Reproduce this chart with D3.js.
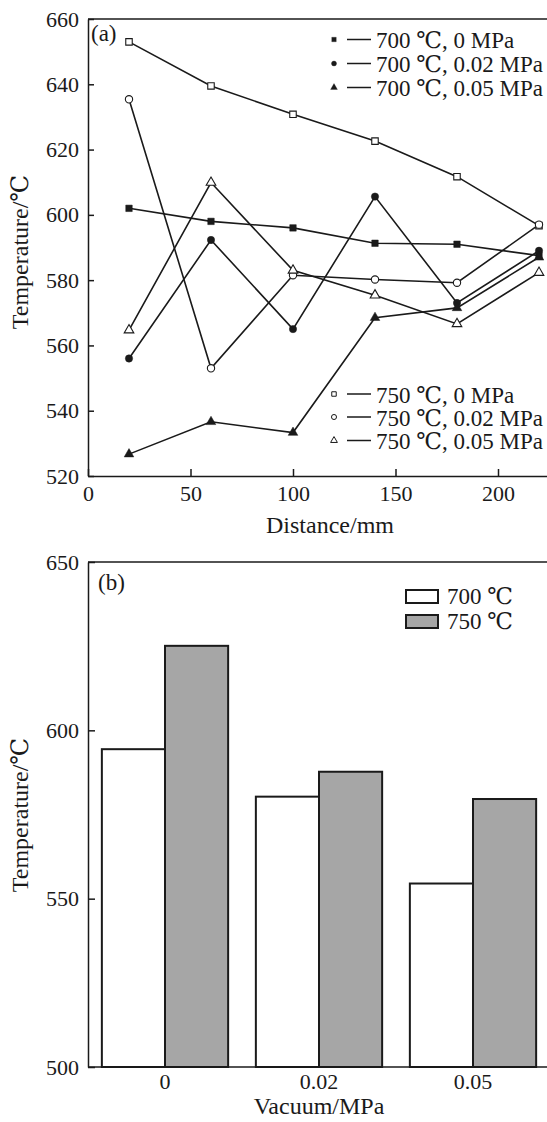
<!DOCTYPE html>
<html><head><meta charset="utf-8">
<script src="https://cdn.jsdelivr.net/npm/d3@7"></script>
<style>
body{margin:0;background:#fff;}
svg text{font-family:"Liberation Serif","DejaVu Serif",serif;fill:#1a1a1a;}
</style></head>
<body>
<svg id="chart" width="547" height="1122"></svg>
<script>
// ---------- Data: panel (a) ----------
const distances = [20, 60, 100, 140, 180, 220];
const seriesNames = ["700 ℃, 0 MPa","700 ℃, 0.02 MPa","700 ℃, 0.05 MPa","750 ℃, 0 MPa","750 ℃, 0.02 MPa","750 ℃, 0.05 MPa"];
const seriesSymbols = ["square","circle","triangle","square","circle","triangle"];
const seriesFilled = [true,true,true,false,false,false];
const t700_0    = [602, 598, 596, 591.3, 591, 587.5];
const t700_002  = [556, 592.3, 565, 605.6, 573, 589];
const t700_005  = [526.7, 536.6, 533.3, 568.5, 571.5, 587];
const t750_0    = [653, 639.5, 630.8, 622.6, 611.7, 596.7];
const t750_002  = [635.4, 553, 581.5, 580.2, 579.2, 597];
const t750_005  = [564.7, 609.9, 583, 575.4, 566.6, 582.3];
const seriesValues = [t700_0, t700_002, t700_005, t750_0, t750_002, t750_005];
const xTicksA = [0, 50, 100, 150, 200];
const yTicksA = [520, 540, 560, 580, 600, 620, 640, 660];

// ---------- Data: panel (b) ----------
const vacuumCats = ["0", "0.02", "0.05"];
const barGroups = ["700 ℃", "750 ℃"];
const bar700 = [594.4, 580.3, 554.5];
const bar750 = [625.1, 587.7, 579.6];
const yTicksB = [500, 550, 600, 650];

const svg = d3.select("#chart");
const ink = "#1a1a1a";
const tickFont = 22, titleFont = 24, legendFont = 23;

// ================= Panel (a) =================
const xA = d3.scaleLinear().domain([0, 225]).range([88, 549.25]);
const yA = d3.scaleLinear().domain([520, 660]).range([476, 19]);
const gA = svg.append("g");

gA.append("line").attr("x1", 88).attr("x2", 547).attr("y1", yA(660)).attr("y2", yA(660))
  .attr("stroke", ink).attr("stroke-width", 1.5);

const axA_x = gA.append("g").attr("transform", `translate(0,${yA(520)})`)
  .call(d3.axisBottom(xA).tickValues(xTicksA).tickSizeInner(-7).tickSizeOuter(0).tickPadding(9));
const axA_y = gA.append("g").attr("transform", `translate(${xA(0)},0)`)
  .call(d3.axisLeft(yA).tickValues(yTicksA).tickSizeInner(-6).tickSizeOuter(0).tickPadding(9));
[axA_x, axA_y].forEach(a => {
  a.selectAll("path,line").attr("stroke", ink).attr("stroke-width", 1.5);
  a.selectAll("text").attr("font-size", tickFont).attr("fill", ink);
});

gA.append("text").attr("x", 330).attr("y", 533).attr("text-anchor", "middle")
  .attr("font-size", titleFont).text("Distance/mm");
gA.append("text").attr("transform", "translate(28,252) rotate(-90)").attr("text-anchor", "middle")
  .attr("font-size", titleFont).text("Temperature/℃");
gA.append("text").attr("x", 91).attr("y", 41).attr("font-size", legendFont).text("(a)");

function symbolPath(type, size) {
  const t = type === "square" ? d3.symbolSquare : type === "circle" ? d3.symbolCircle : d3.symbolTriangle;
  return d3.symbol().type(t).size(size)();
}

const line = d3.line().x((d, i) => xA(distances[i])).y(d => yA(d));
seriesValues.forEach((vals, s) => {
  gA.append("path").attr("d", line(vals)).attr("fill", "none").attr("stroke", ink).attr("stroke-width", 1.6);
});
seriesValues.forEach((vals, s) => {
  gA.selectAll(null).data(vals).enter().append("path")
    .attr("d", symbolPath(seriesSymbols[s], seriesSymbols[s] === "triangle" ? 40 : 42))
    .attr("transform", (d, i) => `translate(${xA(distances[i])},${yA(d)})`)
    .attr("fill", seriesFilled[s] ? ink : "#fff")
    .attr("stroke", ink).attr("stroke-width", seriesFilled[s] ? 0.5 : 1.1);
});

function legendA(items, yCenters) {
  items.forEach((s, k) => {
    const cy = yCenters[k];
    gA.append("path").attr("d", symbolPath(seriesSymbols[s], 20))
      .attr("transform", `translate(334,${cy})`)
      .attr("fill", seriesFilled[s] ? ink : "#fff").attr("stroke", ink).attr("stroke-width", seriesFilled[s] ? 0.3 : 1);
    gA.append("line").attr("x1", 347).attr("x2", 371).attr("y1", cy).attr("y2", cy)
      .attr("stroke", ink).attr("stroke-width", 1.5);
    gA.append("text").attr("x", 376).attr("y", cy + 8.5).attr("font-size", legendFont).text(seriesNames[s]);
  });
}
legendA([0, 1, 2], [39.5, 63.5, 87.5]);
legendA([3, 4, 5], [394, 417, 440.5]);

// ================= Panel (b) =================
const xB = d3.scaleBand().domain(vacuumCats).range([88, 550]).paddingInner(0.18).paddingOuter(0.09);
const xSub = d3.scaleBand().domain(barGroups).range([0, xB.bandwidth()]);
const yB = d3.scaleLinear().domain([500, 650]).range([1067, 562]);
const gB = svg.append("g");

gB.append("line").attr("x1", 88).attr("x2", 547).attr("y1", yB(650)).attr("y2", yB(650))
  .attr("stroke", ink).attr("stroke-width", 1.5);

const fills = ["#ffffff", "#a6a6a6"];
const barData = [bar700, bar750];
barGroups.forEach((g, gi) => {
  gB.selectAll(null).data(barData[gi]).enter().append("rect")
    .attr("x", (d, i) => xB(vacuumCats[i]) + xSub(g))
    .attr("width", xSub.bandwidth())
    .attr("y", d => yB(d))
    .attr("height", d => yB(500) - yB(d))
    .attr("fill", fills[gi]).attr("stroke", ink).attr("stroke-width", 2);
});

const axB_x = gB.append("g").attr("transform", `translate(0,${yB(500)})`)
  .call(d3.axisBottom(xB).tickSize(0).tickPadding(6));
const axB_y = gB.append("g").attr("transform", `translate(88,0)`)
  .call(d3.axisLeft(yB).tickValues(yTicksB).tickSizeInner(-7).tickSizeOuter(0).tickPadding(9));
[axB_x, axB_y].forEach(a => {
  a.selectAll("path,line").attr("stroke", ink).attr("stroke-width", 1.5);
  a.selectAll("text").attr("font-size", tickFont).attr("fill", ink);
});
axB_x.select(".domain").attr("d", `M88,0H550`);

gB.append("text").attr("x", 319).attr("y", 1114).attr("text-anchor", "middle")
  .attr("font-size", titleFont).text("Vacuum/MPa");
gB.append("text").attr("transform", "translate(28,815) rotate(-90)").attr("text-anchor", "middle")
  .attr("font-size", titleFont).text("Temperature/℃");
gB.append("text").attr("x", 98).attr("y", 590).attr("font-size", legendFont).text("(b)");

barGroups.forEach((g, gi) => {
  const top = 590 + gi * 25;
  gB.append("rect").attr("x", 406).attr("y", top).attr("width", 32).attr("height", 13)
    .attr("fill", fills[gi]).attr("stroke", ink).attr("stroke-width", 2);
  gB.append("text").attr("x", 447).attr("y", top + 14).attr("font-size", legendFont).text(g);
});
</script>
</body></html>
